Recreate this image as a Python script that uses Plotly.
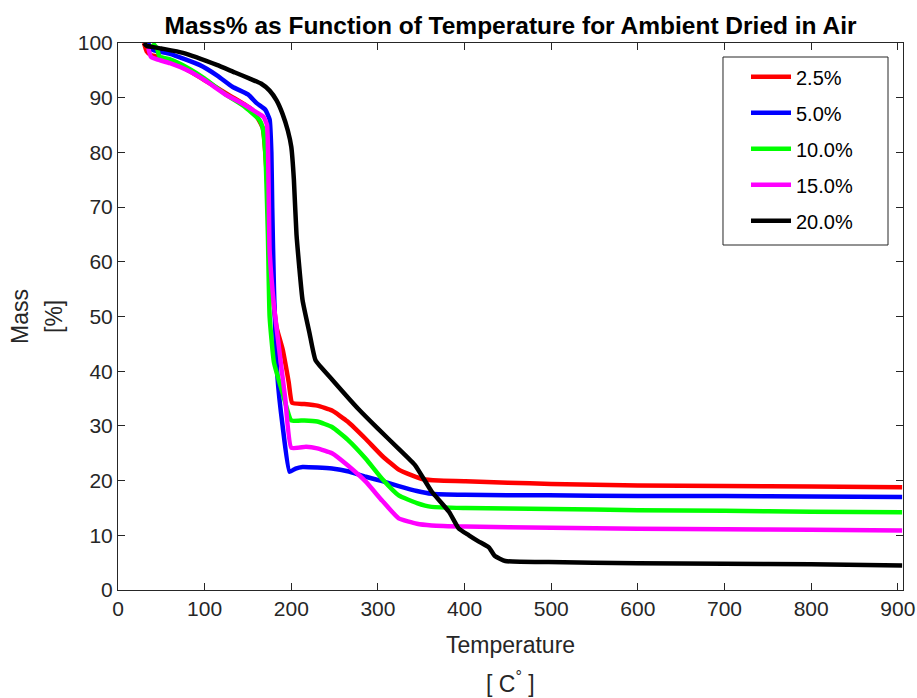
import plotly.graph_objects as go

# ---- data ----
labels = ["2.5%", "5.0%", "10.0%", "15.0%", "20.0%"]
colors = ["#ff0000", "#0000ff", "#00ff00", "#ff00ff", "#000000"]

t_25 = [30, 33, 38, 50, 75, 100, 130, 155, 167, 172, 176, 180, 183, 190, 197, 201, 215, 230, 247, 265, 286, 305, 324, 340, 351, 370, 401, 450, 500, 600, 700, 800, 905]
m_25 = [100, 98.5, 97.8, 97.3, 95.5, 93.2, 90.3, 87.8, 84.5, 75, 62, 52, 48, 44, 38, 34.2, 34.0, 33.7, 32.8, 30.8, 27.6, 24.5, 22.0, 20.9, 20.3, 20.0, 19.9, 19.6, 19.4, 19.1, 19.0, 18.9, 18.8]

t_50 = [35, 37, 45, 60, 94, 115, 132, 150, 160, 170, 175, 177, 178, 180, 184, 190, 198, 205, 213, 230, 247, 265, 286, 305, 324, 345, 362, 400, 497, 600, 700, 800, 905]
m_50 = [100, 99, 98.5, 98, 96, 94, 92, 90.6, 89, 87.8, 86, 80, 70, 55, 39, 30, 21.6, 22.2, 22.5, 22.4, 22.2, 21.7, 20.7, 19.9, 19.0, 18.1, 17.6, 17.4, 17.3, 17.2, 17.2, 17.1, 17.0]

t_100 = [40, 45, 48, 60, 80, 100, 125, 145, 163, 167, 170, 173, 175, 180, 190, 200, 215, 230, 247, 265, 286, 305, 324, 345, 362, 401, 500, 600, 700, 800, 905]
m_100 = [100, 99, 97.5, 97, 95.5, 93.5, 90.5, 88.5, 86, 84.5, 80, 65, 50, 41.6, 36, 31, 31.0, 30.8, 29.8, 27.5, 24, 20.3, 17.3, 15.9, 15.2, 15.0, 14.8, 14.6, 14.5, 14.3, 14.2]

t_150 = [35, 38, 45, 60, 80, 100, 125, 145, 160, 168, 172, 175, 180, 186, 193, 200, 217, 230, 247, 265, 286, 305, 324, 345, 362, 401, 500, 600, 700, 800, 905]
m_150 = [99, 97.5, 97, 96.3, 95, 93.2, 90.5, 88.8, 87.3, 86.5, 85, 62, 52, 44, 35, 26, 26.2, 25.9, 25.0, 22.8, 19.8, 16.3, 13.1, 12.1, 11.8, 11.6, 11.4, 11.2, 11.1, 11.0, 10.9]

t_200 = [30, 33, 50, 75, 114, 135, 152, 165, 175, 183, 190, 196, 200, 203, 206, 213, 221, 228, 247, 278, 300, 324, 343, 362, 382, 393, 405, 416, 428, 435, 447, 497, 600, 700, 800, 905]
m_200 = [100, 99.5, 99.0, 98.2, 96, 94.6, 93.5, 92.6, 91.3, 89.5, 87, 84, 81, 75, 65, 53, 47, 42, 38.5, 33, 29.5, 25.8, 22.8, 18, 14.3, 11.3, 10.0, 8.9, 7.8, 6.2, 5.3, 5.1, 4.9, 4.8, 4.7, 4.5]

xs = [t_25, t_50, t_100, t_150, t_200]
ys = [m_25, m_50, m_100, m_150, m_200]

x_ticks = [0, 100, 200, 300, 400, 500, 600, 700, 800, 900]
y_ticks = [0, 10, 20, 30, 40, 50, 60, 70, 80, 90, 100]

FONT = "Liberation Sans, Arial, sans-serif"
AX = "#262626"

fig = go.Figure()
for lab, col, x, y in zip(labels, colors, xs, ys):
    fig.add_trace(go.Scatter(x=x, y=y, mode="lines", name=lab, legendgroup=lab,
                             line=dict(color=col, width=4.5, shape="spline", smoothing=0.4)))

axis_common = dict(showline=True, linecolor=AX, linewidth=1, mirror="ticks",
                   ticks="inside", ticklen=7, tickcolor=AX, showgrid=False, zeroline=False,
                   automargin=False,
                   tickfont=dict(family=FONT, size=21, color=AX))

fig.update_layout(
    width=917, height=698,
    margin=dict(l=118, r=14, t=43, b=108),
    paper_bgcolor="white", plot_bgcolor="white",
    font=dict(family=FONT, color=AX),
    title=dict(text="<b>Mass% as Function of Temperature for Ambient Dried in Air</b>",
               x=0.5, xref="paper", xanchor="center", y=0.963, yanchor="middle",
               font=dict(family=FONT, size=24.5, color="#000000")),
    xaxis=dict(range=[0, 906], tickvals=x_ticks, **axis_common),
    yaxis=dict(range=[0, 100], tickvals=y_ticks, **axis_common),
    legend=dict(x=0.800, y=0.974, xanchor="left", yanchor="top",
                borderwidth=0, bgcolor="rgba(0,0,0,0)",
                font=dict(family=FONT, size=20, color="#000000"),
                tracegroupgap=7, itemwidth=40),
    showlegend=True,
)

# legend frame (MATLAB-style box)
fig.add_shape(type="rect", xref="paper", yref="paper", x0=0.7707, x1=0.9809, y0=0.6307, y1=0.9744,
              line=dict(color=AX, width=1), fillcolor="white", layer="above")

ann_font = dict(family=FONT, size=23, color=AX)
fig.add_annotation(text="Temperature", xref="paper", yref="paper", x=0.5, y=-0.1,
                   xanchor="center", yanchor="middle", showarrow=False, font=ann_font)
fig.add_annotation(text="[ C<sup>°</sup> ]", xref="paper", yref="paper", x=0.5, y=-0.168,
                   xanchor="center", yanchor="middle", showarrow=False, font=ann_font)
fig.add_annotation(text="Mass", xref="paper", yref="paper", x=-0.1255, y=0.5, textangle=-90,
                   xanchor="center", yanchor="middle", showarrow=False, font=ann_font)
fig.add_annotation(text="[%]", xref="paper", yref="paper", x=-0.0822, y=0.5, textangle=-90,
                   xanchor="center", yanchor="middle", showarrow=False, font=ann_font)

fig.write_html("out.html")
